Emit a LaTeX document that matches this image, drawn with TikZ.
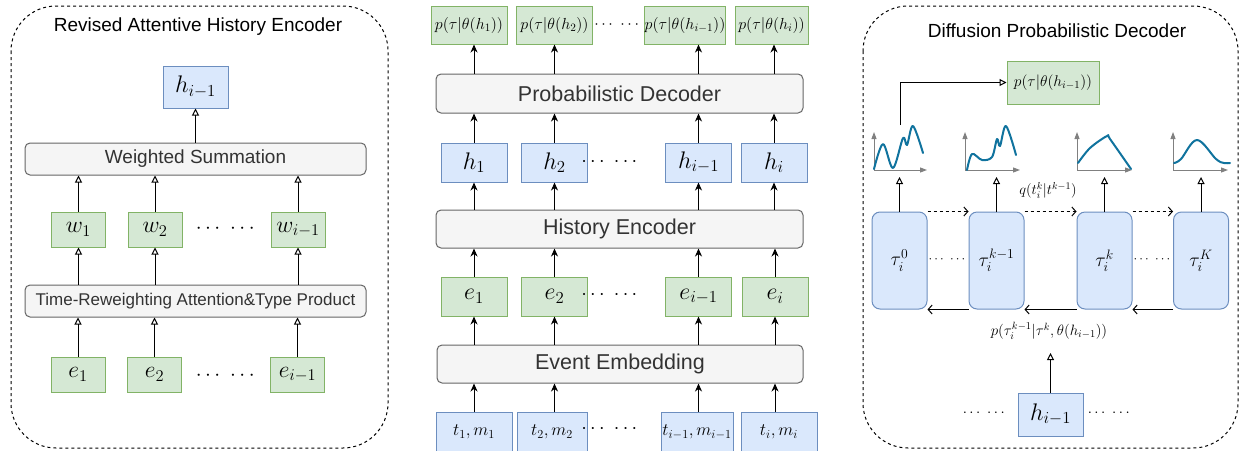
\RequirePackage{fix-cm}
\documentclass[tikz,border=0pt]{standalone}
\usepackage{amsmath}
\usepackage{fontspec}
\setsansfont{Liberation Sans}
\usepackage{tikz}
\usetikzlibrary{positioning}
\usetikzlibrary{arrows.meta}

\definecolor{bluefill}{HTML}{DAE8FC}
\definecolor{blueline}{HTML}{6C8EBF}
\definecolor{greenfill}{HTML}{D5E8D4}
\definecolor{greenline}{HTML}{82B366}
\definecolor{grayfill}{HTML}{F5F5F5}
\definecolor{grayline}{HTML}{666666}
\definecolor{graytext}{HTML}{333333}
\definecolor{curveblue}{HTML}{10739E}
\definecolor{axisgray}{HTML}{808080}

\newcommand{\setfs}[1]{\fontsize{#1}{#1}\selectfont}
\newcommand{\twodots}{$\cdots\ \cdots$}

\begin{document}
\begin{tikzpicture}
		[x=1pt, y=-1pt,
		bluebox/.style={draw=blueline, fill=bluefill, line width=1pt, inner sep=0pt},
		greenbox/.style={draw=greenline, fill=greenfill, line width=1pt, inner sep=0pt},
		layer/.style={draw=grayline, fill=grayfill, line width=1pt, rounded corners=5pt, inner sep=0pt, text=graytext},
		panel/.style={draw, line width=1pt, dash pattern=on 3pt off 3pt, rounded corners=45pt},
		openarr/.style={-{Triangle[open, length=7pt, width=7pt]}, line width=1pt},
		fullarr/.style={-{Stealth[length=8pt, width=7pt, inset=2.5pt]}, line width=1pt},
		barb/.style={-{Straight Barb[length=4pt, width=9pt]}, line width=1pt},
		axis/.style={draw=axisgray, line width=1pt, arrows={Triangle[length=7pt, width=5pt]-Triangle[length=7pt, width=5pt]}},
		curve/.style={draw=curveblue, line width=2pt, line cap=round, line join=round},
		dots/.style={inner sep=0pt}]
		\useasboundingbox (0,0) rectangle (1246,450);

		% left panel
		\draw[panel] (11,6) rectangle (388,448);
		\node[font={\sffamily\setfs{19}}] (ltitle) at (198,27) {Revised Attentive History Encoder};
		\node[bluebox, minimum width=65pt, minimum height=42pt, font=\setfs{24}] (hl) at (195.5,87) {$h_{i-1}$};
		\node[layer, minimum width=341pt, minimum height=32pt, font={\sffamily\setfs{19}}] (wsum) at (195.5,159) {Weighted Summation};
		\node[greenbox, minimum width=54pt, minimum height=35pt, font=\setfs{23.5}] (w1) at (78.5,229.5) {$w_1$};
		\node[greenbox, minimum width=54pt, minimum height=35pt, font=\setfs{23.5}] (w2) at (155,229.5) {$w_2$};
		\node[greenbox, minimum width=54pt, minimum height=35pt, font=\setfs{23.5}] (w3) at (298,229.5) {$w_{i-1}$};
		\node[dots, font=\setfs{21}] (ldw) at (227,229) {\twodots};
		\node[layer, minimum width=341pt, minimum height=32pt, font={\sffamily\setfs{17}}] (tra) at (195.5,301) {Time-Reweighting Attention\&Type Product};
		\node[greenbox, minimum width=54pt, minimum height=35pt, font=\setfs{23.5}] (le1) at (78,374.5) {$e_1$};
		\node[greenbox, minimum width=54pt, minimum height=35pt, font=\setfs{23.5}] (le2) at (154.5,374.5) {$e_2$};
		\node[greenbox, minimum width=54pt, minimum height=35pt, font=\setfs{23.5}] (le3) at (297.5,374.5) {$e_{i-1}$};
		\node[dots, font=\setfs{21}] (lde) at (227,376) {\twodots};

		\foreach \c in {1,2,3} {
			\draw[openarr] (le\c.north) -- (tra.south -| le\c);
			\draw[openarr] (tra.north -| w\c) -- (w\c.south);
			\draw[openarr] (w\c.north) -- (wsum.south -| w\c);
		}
		\draw[openarr] (wsum.north -| hl) -- (hl.south);

		% middle panel
		\node[greenbox, minimum width=76pt, minimum height=38pt, font=\setfs{16}] (p1) at (469,25) {$p(\tau|\theta(h_1))$};
		\node[greenbox, minimum width=76pt, minimum height=38pt, font=\setfs{16}] (p2) at (554.5,25) {$p(\tau|\theta(h_2))$};
		\node[greenbox, minimum width=76pt, minimum height=38pt, font=\setfs{16}] (p3) at (685,25) {$p(\tau|\theta(h_{i-1}))$};
		\node[greenbox, minimum width=73pt, minimum height=38pt, font=\setfs{16}] (p4) at (771.5,25) {$p(\tau|\theta(h_i))$};
		\node[dots, font=\setfs{16}] (mdp) at (618,25) {\twodots};
		\node[layer, minimum width=367pt, minimum height=39pt, font={\sffamily\setfs{21.5}}] (dec) at (619.5,93.5) {Probabilistic Decoder};
		\node[bluebox, minimum width=66pt, minimum height=39pt, font=\setfs{24}] (h1) at (474,162.5) {$h_1$};
		\node[bluebox, minimum width=66pt, minimum height=39pt, font=\setfs{24}] (h2) at (554.5,162.5) {$h_2$};
		\node[bluebox, minimum width=66pt, minimum height=39pt, font=\setfs{24}] (h3) at (698.5,162.5) {$h_{i-1}$};
		\node[bluebox, minimum width=66pt, minimum height=39pt, font=\setfs{24}] (h4) at (774,162.5) {$h_i$};
		\node[dots, font=\setfs{20}] (mdh) at (611,162) {\twodots};
		\node[layer, minimum width=367pt, minimum height=38pt, font={\sffamily\setfs{21.5}}] (enc) at (619.5,229) {History Encoder};
		\node[greenbox, minimum width=66pt, minimum height=39pt, font=\setfs{24}] (e1) at (474,296.5) {$e_1$};
		\node[greenbox, minimum width=66pt, minimum height=39pt, font=\setfs{24}] (e2) at (554.5,296.5) {$e_2$};
		\node[greenbox, minimum width=66pt, minimum height=39pt, font=\setfs{24}] (e3) at (698.5,296.5) {$e_{i-1}$};
		\node[greenbox, minimum width=66pt, minimum height=39pt, font=\setfs{24}] (e4) at (775,296.5) {$e_i$};
		\node[dots, font=\setfs{20}] (mde) at (611,295) {\twodots};
		\node[layer, minimum width=366pt, minimum height=38pt, font={\sffamily\setfs{21.5}}] (emb) at (620,364) {Event Embedding};
		\node[bluebox, minimum width=76pt, minimum height=40pt, font=\setfs{17.5}] (t1) at (474,432) {$t_1, m_1$};
		\node[bluebox, minimum width=70pt, minimum height=40pt, font=\setfs{17.5}] (t2) at (552,432) {$t_2, m_2$};
		\node[bluebox, minimum width=72pt, minimum height=40pt, font=\setfs{17.5}] (t3) at (697,432) {$t_{i-1}, m_{i-1}$};
		\node[bluebox, minimum width=76pt, minimum height=40pt, font=\setfs{17.5}] (t4) at (779,432) {$t_i, m_i$};
		\node[dots, font=\setfs{20}] (mdt) at (611,429) {\twodots};

		\foreach \c in {1,2,3,4} {
			\draw[fullarr] (t\c.north -| e\c) -- (emb.south -| e\c);
			\draw[fullarr] (emb.north -| e\c) -- (e\c.south);
			\draw[fullarr] (e\c.north) -- (enc.south -| e\c);
			\draw[fullarr] (enc.north -| h\c) -- (h\c.south);
			\draw[fullarr] (h\c.north) -- (dec.south -| h\c);
			\draw[fullarr] (dec.north -| h\c) -- (p\c.south -| h\c);
		}

		% right panel
		\draw[panel] (863,6) rectangle (1238,448);
		\node[font={\sffamily\setfs{19}}] (rtitle) at (1057,31) {Diffusion Probabilistic Decoder};
		\node[greenbox, minimum width=92pt, minimum height=43pt, font=\setfs{15.5}] (pfin) at (1053,82.5) {$p(\tau|\theta(h_{i-1}))$};

		% small density plots
		\draw[axis] (874,132) -- (874,170) -- (927,170);
		\draw[curve] plot[smooth, tension=0.55] coordinates {(874,169) (883,144) (893,168) (903,138) (907,145) (913,126) (923,153)};
		\draw[axis] (965,132) -- (965,170) -- (1020,170);
		\draw[curve] plot[smooth, tension=0.55] coordinates {(967,170) (972,154) (982,160) (992,157) (997,139) (1000,146) (1006,126) (1016,155)};
		\draw[axis] (1077,132) -- (1077,170) -- (1132,170);
		\draw[curve] plot[smooth, tension=0.55] coordinates {(1078,163) (1090,148) (1107,136) (1110,139) (1131,169)};
		\draw[axis] (1173,132) -- (1173,170) -- (1228,170);
		\draw[curve] plot[smooth, tension=0.6] coordinates {(1174,163) (1181,159) (1197,140) (1216,159) (1224,163) (1230,163)};
		\coordinate (pbase) at (900,177);
		\coordinate (ptop) at (900,125);

		\node[bluebox, rounded corners=8pt, minimum width=55pt, minimum height=97pt, font=\setfs{19.5}] (tau0) at (899.5,260.5) {$\tau_i^0$};
		\node[bluebox, rounded corners=8pt, minimum width=55pt, minimum height=97pt, font=\setfs{19.5}] (tau1) at (996.5,260.5) {$\tau_i^{k-1}$};
		\node[bluebox, rounded corners=8pt, minimum width=55pt, minimum height=97pt, font=\setfs{19.5}] (tau2) at (1104.5,260.5) {$\tau_i^k$};
		\node[bluebox, rounded corners=8pt, minimum width=55pt, minimum height=97pt, font=\setfs{19.5}] (tau3) at (1201,260.5) {$\tau_i^K$};
		\node[dots, font=\setfs{13}] (rd1) at (948,260) {\twodots};
		\node[dots, font=\setfs{13}] (rd2) at (1153,260) {\twodots};

		\draw[openarr] (ptop) |- (pfin.west);
		\foreach \c in {0,1,2,3}
			\draw[openarr] (tau\c.north) -- (tau\c.north |- pbase);
		\draw[barb, dash pattern=on 3pt off 3pt] (tau0.north east) -- (tau1.north west);
		\draw[barb, dash pattern=on 3pt off 3pt] (tau1.north east) -- (tau2.north west);
		\draw[barb, dash pattern=on 3pt off 3pt] (tau2.north east) -- (tau3.north west);
		\draw[barb] (tau1.south west) -- (tau0.south east);
		\draw[barb] (tau2.south west) -- (tau1.south east);
		\draw[barb] (tau3.south west) -- (tau2.south east);
		\node[font=\setfs{14.5}] (qlab) at (1048,190) {$q(t_i^k|t^{k-1})$};
		\node[font=\setfs{15}] (plab) at (1049,331) {$p(\tau_i^{k-1}|\tau^k,\theta(h_{i-1}))$};

		\node[bluebox, minimum width=65pt, minimum height=43pt, font=\setfs{24}] (hr) at (1050.5,414.5) {$h_{i-1}$};
		\coordinate (htip) at (1050.5,353);
		\draw[openarr] (hr.north) -- (htip);
		\node[dots, font=\setfs{15}] (rd3) at (985,413) {\twodots};
		\node[dots, font=\setfs{15}] (rd4) at (1110,413) {\twodots};
	\end{tikzpicture}
\end{document}
